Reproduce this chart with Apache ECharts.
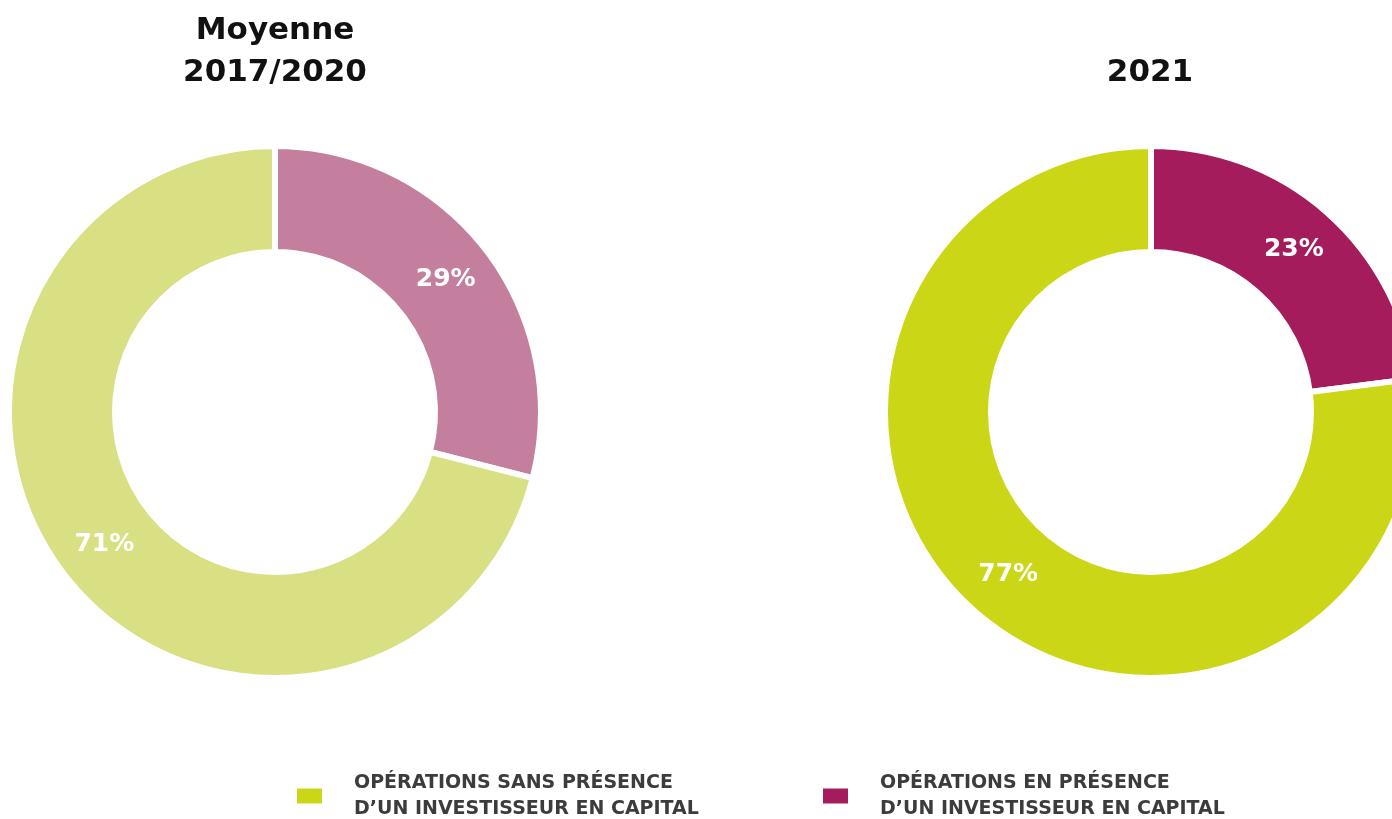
<!doctype html>
<html lang="fr">
<head>
    <meta charset="UTF-8">
    <title>Opérations avec / sans investisseur en capital</title>
    <script src="https://cdn.jsdelivr.net/npm/echarts@6/dist/echarts.min.js"></script>
    <style>
        html, body { margin: 0; padding: 0; background: #fff; }
        #chart { width: 1392px; height: 819px; }
    </style>
</head>
<body>
<div id="chart"></div>
<script type="text/javascript">
/* données */
let categories = [
    "OPÉRATIONS EN PRÉSENCE\nD’UN INVESTISSEUR EN CAPITAL",
    "OPÉRATIONS SANS PRÉSENCE\nD’UN INVESTISSEUR EN CAPITAL"
];
let periods = ["Moyenne\n2017/2020", "2021"];
let values2017_2020 = [29, 71];
let values2021 = [23, 77];

/* couleurs */
let colorsLight = ["#c47f9f", "#d9e084"];
let colorsDark = ["#a51c5c", "#cbd617"];

let fontFamily = "DejaVu Sans";

function buildData(values, colors) {
    return values.map(function (v, i) {
        return { name: categories[i], value: v, itemStyle: { color: colors[i] } };
    });
}

function pieSeries(center, values, colors) {
    return {
        type: "pie",
        center: center,
        radius: [160, 266],
        startAngle: 90,
        clockwise: true,
        avoidLabelOverlap: false,
        emphasis: { disabled: true },
        itemStyle: { borderColor: "#fff", borderWidth: 6 },
        label: {
            show: true,
            position: "inside",
            formatter: "{c}%",
            color: "#fff",
            fontFamily: fontFamily,
            fontWeight: "bold",
            fontSize: 25
        },
        labelLine: { show: false },
        data: buildData(values, colors)
    };
}

let chart = echarts.init(document.getElementById("chart"));

let legendText = {
    color: "#3c3c3c",
    fontFamily: fontFamily,
    fontWeight: "bold",
    fontSize: 19,
    lineHeight: 26,
    padding: [0, 0, 0, 26]
};

let titleText = { fontFamily: fontFamily, fontWeight: "bold", fontSize: 31, lineHeight: 42, color: "#111" };

let option = {
    animation: false,
    title: [
        { text: periods[0], left: 270, top: 5, textAlign: "center", textStyle: titleText },
        { text: periods[1], left: 1145, top: 47, textAlign: "center", textStyle: titleText }
    ],
    legend: [
        {
            data: [{ name: categories[1], itemStyle: { color: colorsDark[1] } }],
            left: 290,
            top: 765,
            icon: "rect",
            itemWidth: 27,
            itemHeight: 17,
            selectedMode: false,
            textStyle: legendText
        },
        {
            data: [{ name: categories[0], itemStyle: { color: colorsDark[0] } }],
            left: 816,
            top: 765,
            icon: "rect",
            itemWidth: 27,
            itemHeight: 17,
            selectedMode: false,
            textStyle: legendText
        }
    ],
    series: [
        pieSeries([275, 412], values2017_2020, colorsLight),
        pieSeries([1151, 412], values2021, colorsDark)
    ]
};
chart.setOption(option);
</script>
</body>
</html>
